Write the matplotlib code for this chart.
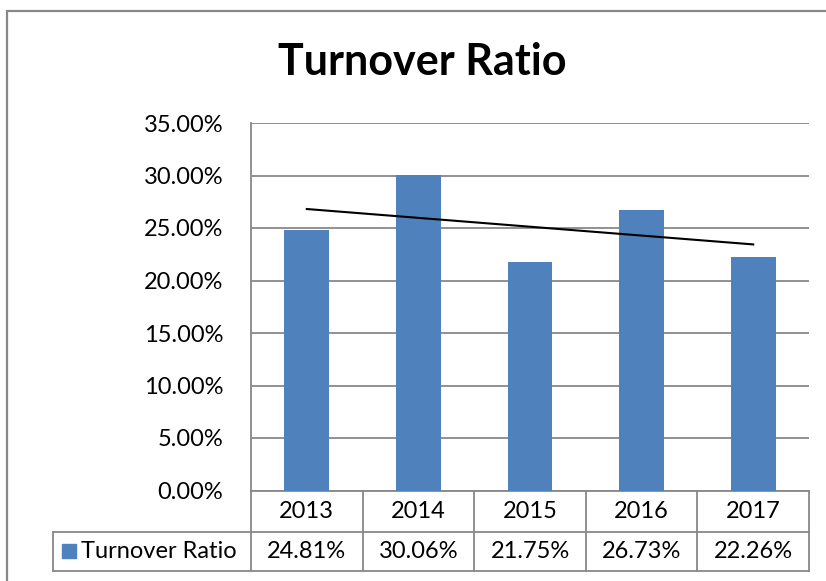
import numpy as np
import matplotlib
matplotlib.use("Agg")
import matplotlib.pyplot as plt
from matplotlib.patches import Rectangle
from matplotlib.lines import Line2D
from matplotlib.ticker import FuncFormatter

years = ["2013", "2014", "2015", "2016", "2017"]
turnover = [24.81, 30.06, 21.75, 26.73, 22.26]
series_name = "Turnover Ratio"

plt.rcParams["font.family"] = ["Lato", "DejaVu Sans"]

W, H = 826, 581
fig = plt.figure(figsize=(W / 100, H / 100), dpi=100)

# outer chart border (only left and top visible in the crop)
fig.patches.append(Rectangle((6.5 / W, -0.1), 1.2, (H - 10.5) / H + 0.1,
                             transform=fig.transFigure, fill=False,
                             edgecolor="#888888", linewidth=1.6))

left, right, top, bottom = 251, 809, 123, 490.5
ax = fig.add_axes([left / W, (H - bottom) / H, (right - left) / W, (bottom - top) / H])

x = np.arange(len(years))
ax.bar(x, turnover, width=0.40, color="#4F81BD", zorder=3)

# linear trendline
k, b = np.polyfit(x, turnover, 1)
ax.plot(x, k * x + b, color="black", linewidth=1.5, zorder=4)

ax.set_xlim(-0.5, len(years) - 0.5)
ax.set_ylim(0, 35)
ax.set_yticks(np.arange(0, 36, 5))
ax.yaxis.set_major_formatter(FuncFormatter(lambda v, _: f"{v:.2f}%"))
ax.tick_params(axis="y", length=0, labelsize=17, pad=20)
ax.set_xticks([])
ax.grid(axis="y", color="#888888", linewidth=1.3, zorder=0)
for s in ("top", "right"):
    ax.spines[s].set_visible(False)
for s in ("left", "bottom"):
    ax.spines[s].set_color("#888888")
    ax.spines[s].set_linewidth(1.3)

fig.text(422 / W, (H - 62) / H, "Turnover Ratio",
         ha="center", va="center", fontsize=31, fontweight="bold")

# data table below the axis
ph = bottom - top
row1 = 41 / ph
row2 = 80 / ph
per_px = len(years) / (right - left)
leg_left = (52.5 - left) * per_px - 0.5
tr = ax.get_xaxis_transform()
kw = dict(transform=tr, color="#888888", linewidth=1.3, clip_on=False)
for xb in np.arange(-0.5, len(years)):
    ax.add_line(Line2D([xb, xb], [0, -row2], **kw))
ax.add_line(Line2D([leg_left, len(years) - 0.5], [-row1, -row1], **kw))
ax.add_line(Line2D([leg_left, len(years) - 0.5], [-row2, -row2], **kw))
ax.add_line(Line2D([leg_left, leg_left], [-row1, -row2], **kw))

for i, (yr, v) in enumerate(zip(years, turnover)):
    ax.text(i, -row1 / 2, yr, transform=tr, ha="center", va="center", fontsize=17)
    ax.text(i, -(row1 + row2) / 2, f"{v:.2f}%", transform=tr, ha="center",
            va="center", fontsize=17)

ymid = -(row1 + row2) / 2
ax.add_patch(Rectangle((leg_left + 9 * per_px, ymid - 7 / ph), 14.5 * per_px, 14 / ph,
                       transform=tr, color="#4F81BD", clip_on=False))
ax.text(leg_left + 28 * per_px, ymid, series_name,
        transform=tr, ha="left", va="center", fontsize=17)

fig.savefig("out.png", dpi=100)
